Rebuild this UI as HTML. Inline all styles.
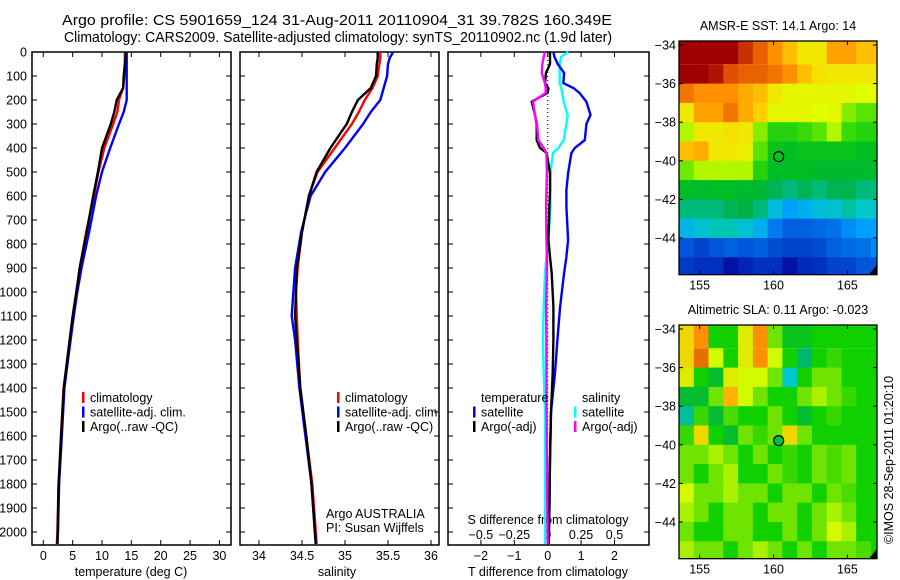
<!DOCTYPE html>
<html><head><meta charset="utf-8"><style>
body{margin:0;background:#fff}
svg{display:block;font-family:"Liberation Sans",sans-serif;font-size:12.5px}
</style></head><body>
<svg id="s" width="900" height="580" viewBox="0 0 900 580">
<g font-size="14.5" text-anchor="middle">
<text x="337" y="25" textLength="550" lengthAdjust="spacingAndGlyphs">Argo profile: CS 5901659_124 31-Aug-2011 20110904_31 39.782S 160.349E</text>
<text x="338" y="42" textLength="548" lengthAdjust="spacingAndGlyphs">Climatology: CARS2009. Satellite-adjusted climatology: synTS_20110902.nc (1.9d later)</text>
</g>
<g id="g"></g>
</svg>
<script>
// ---- profile data ----
const depths=[0,25,50,100,150,200,250,300,400,500,600,750,900,1000,1100,1200,1400,1600,1800,2000,2050];
const tClim=[13.9,13.9,13.9,13.8,13.6,12.9,12.6,11.9,10.4,9.4,8.6,7.3,6.2,5.6,5.0,4.5,3.45,3.0,2.6,2.4,2.3];
const tSat=[14.2,14.2,14.2,14.2,14.2,14.2,13.7,12.9,11.4,10.0,9.0,7.8,6.5,5.8,5.2,4.65,3.6,3.15,2.7,2.5,2.4];
const tArgo=[14.0,14.0,13.9,13.7,13.6,12.5,12.1,11.5,10.0,9.3,8.5,7.4,6.2,5.65,5.0,4.5,3.5,3.05,2.6,2.45,2.4];
const sClim=[35.41,35.41,35.40,35.38,35.32,35.23,35.16,35.08,34.88,34.68,34.58,34.5,34.45,34.43,34.44,34.45,34.48,34.55,34.62,34.66,34.67];
const sSat=[35.56,35.52,35.50,35.49,35.45,35.41,35.3,35.21,35.0,34.77,34.6,34.49,34.42,34.40,34.38,34.42,34.47,34.54,34.61,34.65,34.66];
const sArgo=[35.38,35.38,35.37,35.36,35.30,35.15,35.08,35.02,34.83,34.67,34.58,34.5,34.44,34.43,34.42,34.44,34.48,34.55,34.61,34.65,34.66];
// ---- difference data ----
const dDepths=[0,20,50,87,130,150,170,207,262,300,367,400,421,505,575,645,783,854,921,1062,1200,1337,1500,1700,1900,2050];
const dTSat=[0.17,0.2,0.3,0.49,0.47,0.77,0.95,1.16,1.28,1.16,1.11,0.81,0.71,0.61,0.56,0.56,0.61,0.56,0.49,0.37,0.29,0.22,0.1,0.07,0.05,0.03];
const dTArgo=[0.07,0.07,0.07,-0.05,-0.08,0.02,0.0,-0.48,-0.38,-0.33,-0.33,-0.23,-0.03,0.07,0.07,0.05,0.02,0.07,0.12,0.17,0.17,0.15,0.1,0.07,0.05,0.03];
const dSSat=[0.155,0.1,0.09,0.09,0.09,0.1,0.11,0.12,0.15,0.14,0.12,0.08,0.04,0.02,0.02,0.02,0.005,-0.01,-0.02,-0.03,-0.035,-0.03,-0.02,-0.02,-0.02,-0.02];
const dSArgo=[-0.02,-0.03,-0.04,-0.045,-0.02,-0.015,-0.015,-0.11,-0.095,-0.08,-0.07,-0.03,-0.01,-0.006,-0.01,-0.012,-0.01,-0.006,-0.006,-0.012,-0.01,-0.01,-0.008,-0.005,-0.003,0];
// ---- tick labels ----
const depthTicks=[0,100,200,300,400,500,600,700,800,900,1000,1100,1200,1300,1400,1500,1600,1700,1800,1900,2000];
const tTicks=[0,5,10,15,20,25,30];
const sTicks=[34,34.5,35,35.5,36];
const dTTicks=[-2,-1,0,1,2];
const dSTicks=[-0.5,-0.25,0,0.25,0.5];
const latTicks=[-34,-36,-38,-40,-42,-44];
const lonTicks=[155,160,165];
// ---- map data (rows lat -34 -> -46, cols lon 153.6 -> 167.6 step 1) ----
const sstGrid=[
[18,18,18,18,17.5,17,16.5,16,15.5,15.5,16.3,16.3,16,16],
[18,18,17.8,17.2,17,17,16.8,16.5,16,15.6,15.5,15.5,15.5,15.5],
[16.8,16.5,16.5,16.5,16.2,16,15.5,15.3,15.3,15.3,15.3,15.3,15.2,15.2],
[15.5,16.3,16.3,16.8,16.2,15.8,15.3,15.3,15.3,15.2,15.3,14.8,14.6,14.6],
[15,15.5,15.5,15.6,15.5,14.8,14.2,14.2,14.4,14.6,15,14.4,14.2,14.2],
[16,16.2,15.5,15.5,15.4,14.6,13.9,13.8,13.9,13.9,13.9,13.9,13.8,13.8],
[14.7,15,15,15,15,14.2,13.7,13.7,13.7,13.6,13.6,13.6,13.6,13.6],
[13.7,13.6,13.7,13.7,13.6,13.5,13.2,13,13.2,13,13.2,13.2,13,13],
[13,13,13,13.2,13.3,13,12.4,12,12.2,12.4,12.5,12.8,12.6,12.6],
[12.3,12.5,12.7,12.7,12.5,12.2,11.6,11.3,11.3,11.4,11.5,11.8,12,12],
[11.2,11,11.2,11.3,11.2,11.3,11.1,11,11,11.1,11.3,11.4,11.5,11.8],
[10.9,10.8,10.8,10.3,10.6,10.8,10.8,10.3,10.7,10.8,11,11,11.2,11.2]];
const slaGrid=[
[0.15,0.25,0,0,0.12,0.25,0.05,-0.03,-0.03,0,0,0,0,0],
[0.15,0.3,0.1,0,0.12,0.25,0.1,0,-0.1,0,0.02,0,0,0],
[0.12,0,-0.05,0.12,0.1,0.1,0.05,-0.15,0,0.05,0.05,0,0,0],
[-0.05,-0.05,0.05,0.2,0.1,0.05,0,0,0.05,0.08,0.05,0.02,0,0],
[-0.12,0.02,-0.05,0.03,0,0,0.05,0,-0.05,0,0.02,0,0,0],
[0.02,0.15,0,-0.05,0.05,0.02,0.05,0.15,0.05,0,0,0,0,0],
[0.05,0.05,0.08,0.05,0,0.05,0,0.02,0,0.05,0.03,0.05,0,0],
[0.05,0,0.05,0.08,0,0,0.05,0.02,0,0.05,0.03,0.05,0,0],
[0.1,0.05,0.05,0.08,0.05,0.05,0,0.05,0.05,0,0.05,0.03,0,0],
[0.08,0.05,0,0.05,0.05,0,0.05,0.05,0,0.05,0.08,0.05,0,0],
[0.05,0,0,0.05,0.05,0,0,0.05,0,0.05,0.1,0.08,0,0],
[0.08,0.05,0.05,0,0.05,0.08,0.05,0,0.05,0,0.05,0.05,0.03,0]];
const argoPos=[160.349,-39.782];

const NS='http://www.w3.org/2000/svg';
const G=document.getElementById('g');
function el(t,a,p){const e=document.createElementNS(NS,t);for(const k in a)e.setAttribute(k,a[k]);(p||G).appendChild(e);return e;}
function txt(x,y,s,anchor,p){const e=el('text',{x:x,y:y,'text-anchor':anchor||'middle'},p);e.textContent=s;return e;}
const yD=d=>52+d*0.24;
const TOP=52,BOT=545;

function panel(name,x0,x1){
  const g=el('g',{});
  
  
  const r=el('rect',{x:x0,y:TOP,width:x1-x0,height:BOT-TOP,fill:'none',stroke:'#000','stroke-width':1.5},g);
  
  
  depthTicks.forEach(d=>{const y=yD(d);el('line',{x1:x0,x2:x0+5,y1:y,y2:y,stroke:'#000'},g);el('line',{x1:x1-5,x2:x1,y1:y,y2:y,stroke:'#000'},g);});
  return g;
}
function line(g,xs,ds,fx,color,name){
  const pts=xs.map((v,i)=>fx(v).toFixed(1)+','+yD(ds[i]).toFixed(1)).join(' ');
  const p=el('polyline',{points:pts,fill:'none',stroke:color,'stroke-width':2.4},g);
  
  
}
function legend(g,x,y,items){
  items.forEach((it,i)=>{
    el('rect',{x:x,y:y+i*14.5-10,width:2.5,height:11,fill:it[0]},g);
    const t=txt(x+8,y+i*14.5,it[1],'start',g);
    
    
  });
}

// Panel 1 temperature
const fT=v=>43.3+v*5.87;
const p1=panel('temperature-panel',32,231);
depthTicks.forEach(d=>{const t=txt(27,yD(d)+4.5,String(d),'end',p1);});
tTicks.forEach(v=>{const x=fT(v);el('line',{x1:x,x2:x,y1:TOP,y2:TOP+5,stroke:'#000'},p1);el('line',{x1:x,x2:x,y1:BOT-5,y2:BOT,stroke:'#000'},p1);const t=txt(x,560,String(v),'middle',p1);});
const xt1=txt(131,576,'temperature (deg C)','middle',p1);
line(p1,tClim,depths,fT,'#f00','temperature-climatology-line');
line(p1,tSat,depths,fT,'#00f','temperature-satellite-line');
line(p1,tArgo,depths,fT,'#000','temperature-argo-line');
legend(p1,82,402,[['#f00','climatology'],['#00f','satellite-adj. clim.'],['#000','Argo(..raw -QC)']]);

// Panel 2 salinity
const fS=v=>259+(v-34)*86;
const p2=panel('salinity-panel',240,439);
sTicks.forEach(v=>{const x=fS(v);el('line',{x1:x,x2:x,y1:TOP,y2:TOP+5,stroke:'#000'},p2);el('line',{x1:x,x2:x,y1:BOT-5,y2:BOT,stroke:'#000'},p2);const t=txt(x,560,String(v),'middle',p2);});
const xt2=txt(337,576,'salinity','middle',p2);
line(p2,sClim,depths,fS,'#f00','salinity-climatology-line');
line(p2,sSat,depths,fS,'#00f','salinity-satellite-line');
line(p2,sArgo,depths,fS,'#000','salinity-argo-line');
legend(p2,337,402,[['#f00','climatology'],['#00f','satellite-adj. clim.'],['#000','Argo(..raw -QC)']]);
const cr1=txt(326,518,'Argo AUSTRALIA','start',p2);
const cr2=txt(326,532,'PI: Susan Wijffels','start',p2);

// Panel 3 differences
const fDT=v=>547.7+v*33.4;
const fDS=v=>547.7+v*133.6;
const p3=panel('difference-panel',448,649);
el('line',{x1:fDT(0),x2:fDT(0),y1:TOP,y2:BOT,stroke:'#000','stroke-dasharray':'1,3'},p3);
dTTicks.forEach(v=>{const x=fDT(v);el('line',{x1:x,x2:x,y1:TOP,y2:TOP+5,stroke:'#000'},p3);el('line',{x1:x,x2:x,y1:BOT-5,y2:BOT,stroke:'#000'},p3);const t=txt(x,560,String(v).replace('-','\u2212'),'middle',p3);});
dSTicks.forEach(v=>{const t=txt(fDS(v),539,String(v).replace('-','\u2212'),'middle',p3);});
const st=txt(548,524,'S difference from climatology','middle',p3);
const tt=txt(548,576,'T difference from climatology','middle',p3);
line(p3,dSSat,dDepths,fDS,'#0ff','s-satellite-difference-line');
line(p3,dTSat,dDepths,fDT,'#00f','t-satellite-difference-line');
line(p3,dTArgo,dDepths,fDT,'#000','t-argo-difference-line');
line(p3,dSArgo,dDepths,fDS,'#f0f','s-argo-difference-line');
const lt=txt(481,402,'temperature','start',p3);
const ls=txt(582,402,'salinity','start',p3);
legend(p3,473,416.5,[['#00f','satellite'],['#000','Argo(-adj)']]);
legend(p3,574,416.5,[['#0ff','satellite'],['#f0f','Argo(-adj)']]);

// Maps
const LON0=153.6,LON1=167.0,LAT0=-34,LAT1=-45.9;
function palette(stops,v){
  if(v<=stops[0][0])return stops[0][1];
  for(let i=1;i<stops.length;i++){if(v<=stops[i][0]){const a=stops[i-1],b=stops[i],t=(v-a[0])/(b[0]-a[0]);const ca=a[1],cb=b[1];return 'rgb('+[0,1,2].map(k=>Math.round(ca[k]+(cb[k]-ca[k])*t)).join(',')+')';}}
  return stops[stops.length-1][1];
}
function rgb(c){return typeof c==='string'?c:'rgb('+c.join(',')+')';}
const sstStops=[[10,[0,0,144]],[10.8,[0,48,192]],[11.3,[0,96,224]],[12,[0,160,255]],[12.6,[0,200,200]],[13.3,[0,176,64]],[13.8,[0,192,32]],[14.5,[64,224,0]],[15.2,[224,255,0]],[15.8,[255,208,0]],[16.5,[255,144,0]],[17.2,[224,80,0]],[18,[160,0,0]]];
const slaStops=[[-0.25,[0,144,255]],[-0.15,[0,200,200]],[-0.08,[0,176,80]],[0,[16,208,0]],[0.05,[110,228,0]],[0.1,[210,250,0]],[0.18,[255,192,0]],[0.25,[255,144,0]],[0.32,[224,96,0]]];
function map(name,x0,x1,y0,latY34,grid,stops,title,fillCircle){
  const g=el('g',{});
  
  
  const fx=lon=>x0+(lon-LON0)*14.77;
  const fy=lat=>latY34+(-34-lat)*19.3;
  const y1=fy(LAT1);
  const cid=name+'-clip';
  const cp=el('clipPath',{id:cid},g);el('rect',{x:x0,y:y0,width:x1-x0,height:y1-y0},cp);
  const cells=el('g',{'clip-path':'url(#'+cid+')'},g);
  grid.forEach((row,i)=>row.forEach((v,j)=>{
    const c=palette(stops,v);
    const r=el('rect',{x:fx(LON0+j).toFixed(1),y:(i===0?y0:fy(-34-i)).toFixed(1),width:15.3,height:(i===0?fy(-35)-y0:19.8).toFixed(1),fill:rgb(c)},cells);
    
    
  }));
  el('polygon',{points:(x1-8)+','+y1+' '+x1+','+y1+' '+x1+','+(y1-10),fill:'#000'},g);
  const f=el('rect',{x:x0,y:y0,width:x1-x0,height:y1-y0,fill:'none',stroke:'#000','stroke-width':1.3},g);
  
  latTicks.forEach(l=>{const y=fy(l);el('line',{x1:x0,x2:x0+4,y1:y,y2:y,stroke:'#000'},g);el('line',{x1:x1-4,x2:x1,y1:y,y2:y,stroke:'#000'},g);const t=txt(x0-3,y+4.5,String(l).replace('-','\u2212'),'end',g);});
  lonTicks.forEach(l=>{const x=fx(l);el('line',{x1:x,x2:x,y1:y0,y2:y0+4,stroke:'#000'},g);el('line',{x1:x,x2:x,y1:y1-4,y2:y1,stroke:'#000'},g);const t=txt(x,y1+15,String(l),'middle',g);});
  const tl=txt((x0+x1)/2,y0-11,title,'middle',g);
  const c=el('circle',{cx:fx(argoPos[0]),cy:fy(argoPos[1]),r:5,fill:fillCircle?'#00c040':'none',stroke:'#000','stroke-width':1.2},g);
  
}
map('sst-map',679,877,41,45,sstGrid,sstStops,'AMSR-E SST: 14.1 Argo: 14',false);
map('sla-map',679,877,325,329,slaGrid,slaStops,'Altimetric SLA: 0.11 Argo: -0.023',true);
const im=el('text',{x:0,y:0,'text-anchor':'middle',transform:'translate(893,460) rotate(-90)'});
im.textContent='\u00A9IMOS 28-Sep-2011 01:20:10';


</script>
</body></html>
